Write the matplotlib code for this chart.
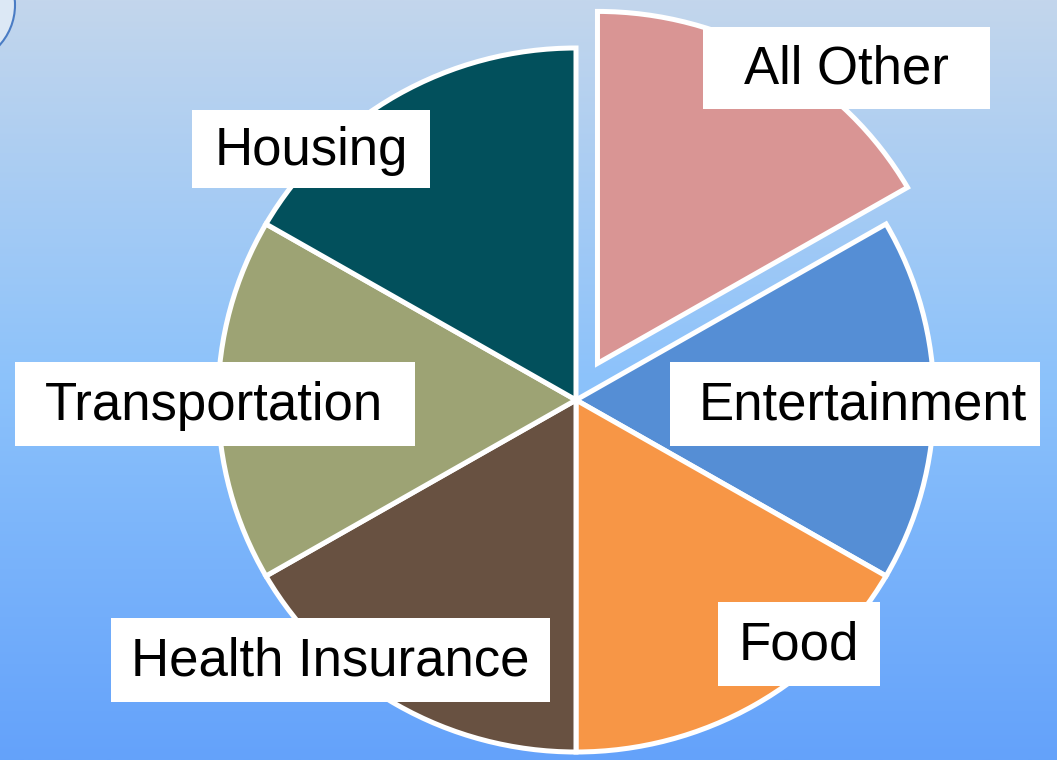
import numpy as np
import matplotlib.pyplot as plt
from matplotlib.colors import LinearSegmentedColormap
from matplotlib.patches import Rectangle, Ellipse

labels = ['All Other', 'Entertainment', 'Food', 'Health Insurance', 'Transportation', 'Housing']
shares = [1, 1, 1, 1, 1, 1]
colors = ['#D99594', '#558ED5', '#F79646', '#685141', '#9DA374', '#02505C']
explode = [0.12, 0, 0, 0, 0, 0]

# label boxes in pixel coords: x0, y0, x1, y1 (y from top)
boxes = [(703, 27, 990, 109), (670, 362, 1040, 446), (718, 602, 880, 686),
         (111, 618, 550, 702), (15, 362, 415, 446), (192, 110, 430, 188)]
text_pos = [(846, 70), (863, 406), (799, 646), (330, 661), (214, 406), (311, 151)]

W, H = 1057, 760
cx, cy, Rx, Ry = 576, 400, 358, 352

def px(x, y):
    return (x - cx) / Rx, (cy - y) / Ry

fig = plt.figure(figsize=(W / 100, H / 100), dpi=100)

# gradient background
bg = fig.add_axes([0, 0, 1, 1])
bg.axis('off')
cmap = LinearSegmentedColormap.from_list('bg', [(0, '#C3D6EC'), (0.5, '#8CC2FB'), (1, '#64A2FA')])
grad = np.linspace(0, 1, 256).reshape(-1, 1)
bg.imshow(grad, cmap=cmap, aspect='auto', extent=[0, 1, 0, 1], origin='upper')
bg.set_xlim(0, 1)
bg.set_ylim(0, 1)

ax = fig.add_axes([0, 0, 1, 1])
ax.patch.set_alpha(0)
ax.pie(shares, colors=colors, explode=explode, startangle=90, counterclock=False,
       radius=1, center=(0, 0), frame=True,
       wedgeprops=dict(edgecolor='white', linewidth=3.6, joinstyle='miter'))
ax.set_aspect('auto')
ax.axis('off')
ax.set_xlim(-cx / Rx, (W - cx) / Rx)
ax.set_ylim((cy - H) / Ry, cy / Ry)

# small decorative circle in corner
ax.add_patch(Ellipse(px(-45, 5), 120 / Rx, 120 / Ry, facecolor='#DCE8F5',
                     edgecolor='#4A7CC4', linewidth=1.5, zorder=5))

for lab, (x0, y0, x1, y1), (tx, ty) in zip(labels, boxes, text_pos):
    ax.add_patch(Rectangle(px(x0, y1), (x1 - x0) / Rx, (y1 - y0) / Ry, facecolor='white',
                           edgecolor='none', zorder=6))
    ax.text(*px(tx, ty), lab, ha='center', va='center', fontsize=38,
            family='Liberation Sans', color='black', zorder=7)

fig.savefig('out.png', dpi=100)
